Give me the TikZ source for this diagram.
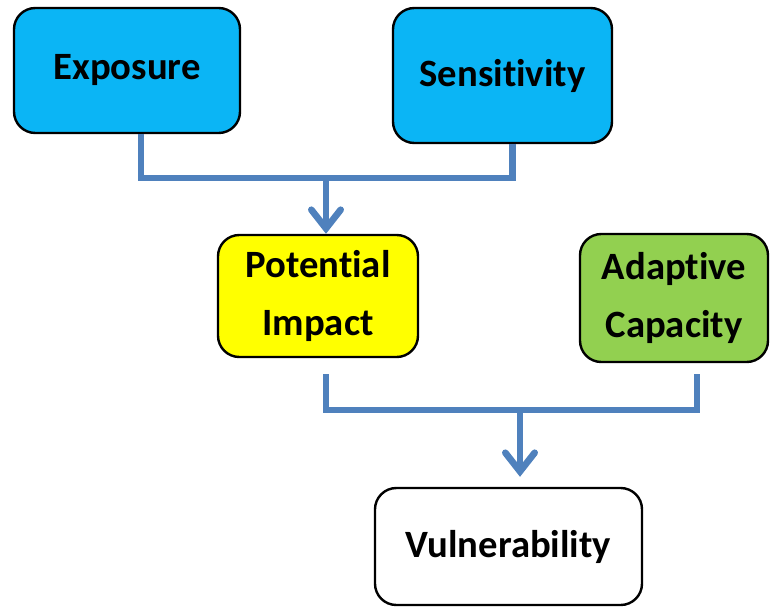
\documentclass[tikz,border=0pt]{standalone}
\usepackage{fontspec}
\setmainfont{Carlito}[Ligatures={NoCommon,NoContextual}]
\usetikzlibrary{arrows.meta,calc}
\definecolor{skyblue}{HTML}{0BB5F5}
\definecolor{leafgreen}{HTML}{92D050}
\definecolor{linkblue}{HTML}{4F81BD}
\definecolor{brightyellow}{HTML}{FFFF00}
\begin{document}
\begin{tikzpicture}[x=0.75pt,y=-0.75pt,
        box/.style={draw=black,line width=1.8pt,rounded corners=16pt,inner sep=0pt,align=center,
            font=\fontsize{29}{43}\selectfont\bfseries},
        link/.style={draw=linkblue,line width=5pt},
        arr/.style={link,-{Straight Barb[length=14pt,width=22pt,line cap=round]}}]
            \useasboundingbox (0,0) rectangle (770,607);
            \node[box,fill=skyblue,minimum width=169.5pt,minimum height=93.75pt] (expo) at (127,70.5) {Exposure};
            \node[box,fill=skyblue,minimum width=164.25pt,minimum height=101.25pt] (sens) at (502.5,75.5) {Sensitivity};
            \node[box,fill=brightyellow,minimum width=150pt,minimum height=91.5pt] (pot) at (318,296) {Potential\\Impact};
            \node[box,fill=leafgreen,minimum width=141pt,minimum height=96pt] (adap) at (674,298) {Adaptive\\Capacity};
            \node[box,fill=white,minimum width=200.25pt,minimum height=87.75pt] (vul) at (508.5,546.5) {Vulnerability};
            \coordinate (bend1) at (326,178);
            \coordinate (bend2) at (520,410);
            \draw[link] ($(expo.south)+(14,0)$) |- (bend1) -| ($(sens.south)+(10,0)$);
            \draw[arr] (bend1) -- (bend1 |- pot.north);
            \draw[link] ($(pot.south)+(8,16)$) |- (bend2) -| ($(adap.south)+(23,11)$);
            \draw[arr,shorten >=7.5pt] (bend2) -- (bend2 |- vul.north);
        \end{tikzpicture}
\end{document}
